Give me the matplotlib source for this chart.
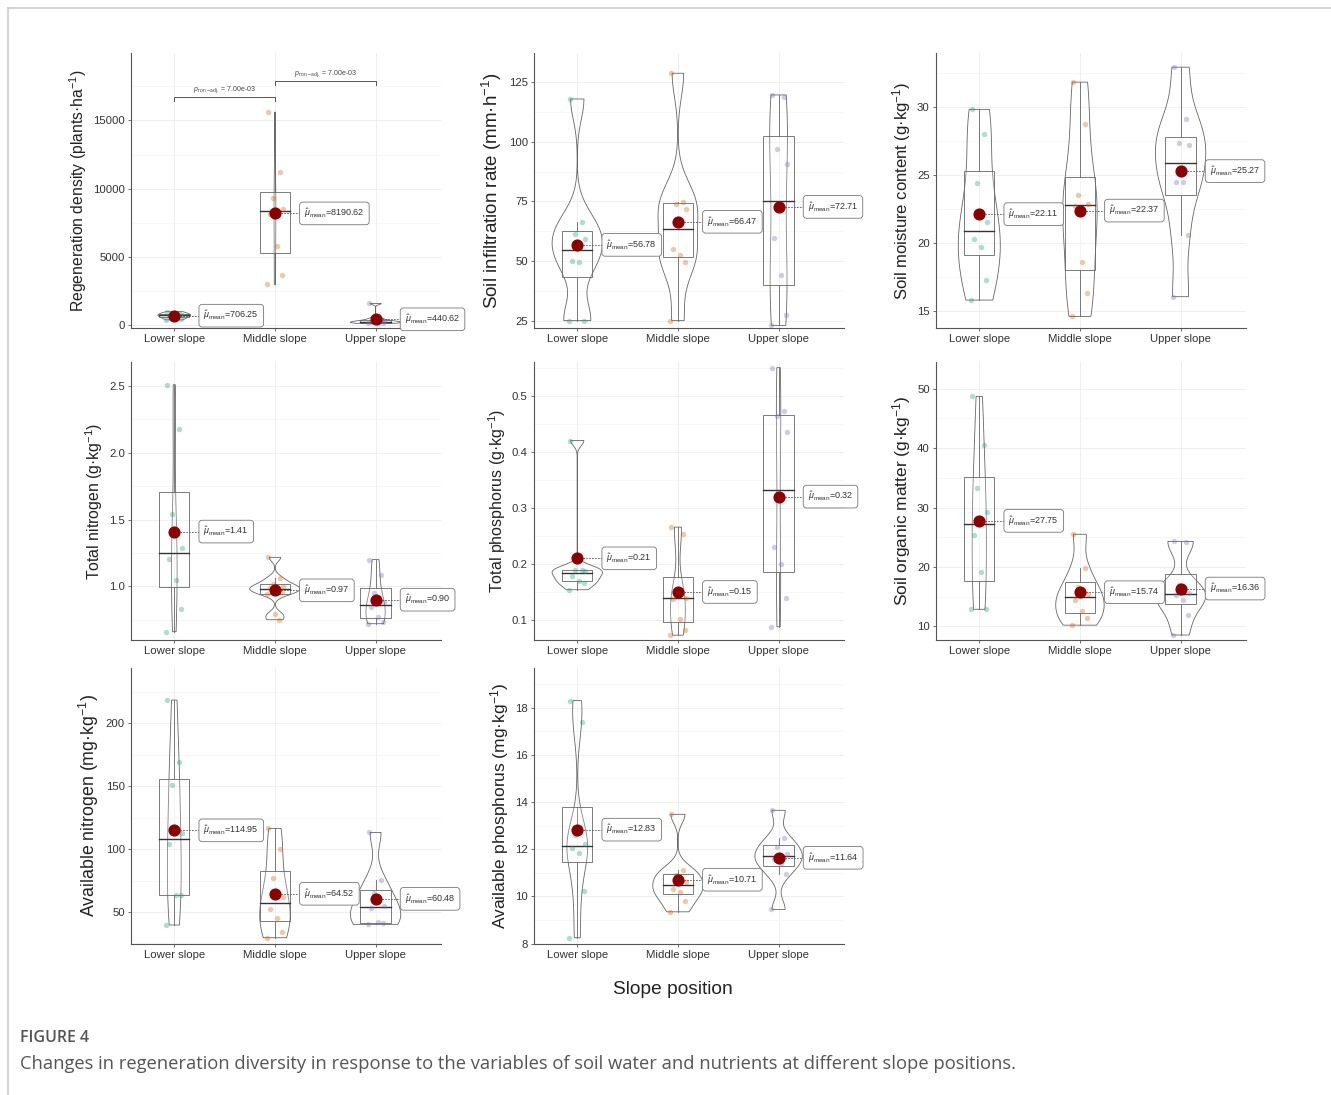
import numpy as np
import matplotlib.pyplot as plt
from matplotlib.lines import Line2D
from matplotlib.patches import Rectangle

plt.rcParams['font.family'] = ['Liberation Sans', 'DejaVu Sans']
plt.rcParams['mathtext.fontset'] = 'custom'
plt.rcParams['mathtext.rm'] = 'Liberation Sans'
plt.rcParams['mathtext.it'] = 'Liberation Sans:italic'
plt.rcParams['mathtext.bf'] = 'Liberation Sans:bold'

groups = ['Lower slope', 'Middle slope', 'Upper slope']
group_colors = ['#1B9E77', '#D95F02', '#7570B3']

# regeneration density (plants/ha)
regen_lower = [1000, 900, 800, 750, 700, 600, 500, 400]
regen_middle = [15600, 11250, 9300, 8550, 8150, 5800, 3700, 3000]
regen_upper = [1600, 500, 350, 300, 250, 200, 175, 150]
regen_means = [706.25, 8190.62, 440.62]

# soil infiltration rate (mm/h)
infil_lower = [118.0, 66.5, 61.4, 59.1, 50.0, 49.5, 25.0, 25.0]
infil_middle = [128.8, 74.6, 74.0, 71.7, 54.9, 52.7, 49.5, 25.0]
infil_upper = [119.7, 119.0, 97.2, 90.9, 59.8, 44.0, 27.4, 23.0]
infil_means = [56.78, 66.47, 72.71]

# soil moisture content (g/kg)
moist_lower = [29.8, 28.0, 24.4, 21.5, 20.3, 19.7, 17.3, 15.8]
moist_middle = [31.8, 28.7, 23.5, 22.85, 22.7, 18.6, 16.3, 14.6]
moist_upper = [32.9, 29.1, 27.35, 27.2, 24.5, 24.45, 20.6, 16.05]
moist_means = [22.11, 22.37, 25.27]

# total nitrogen (g/kg)
tn_lower = [2.51, 2.18, 1.545, 1.29, 1.205, 1.047, 0.828, 0.66]
tn_middle = [1.217, 1.06, 1.02, 1.0, 0.985, 0.975, 0.96, 0.94, 0.79, 0.75]
tn_upper = [1.2, 1.085, 0.95, 0.88, 0.843, 0.773, 0.735, 0.72]
tn_means = [1.41, 0.97, 0.90]

# total phosphorus (g/kg)
tp_lower = [0.42, 0.19, 0.19, 0.188, 0.178, 0.17, 0.1665, 0.154]
tp_middle = [0.2656, 0.254, 0.15, 0.14, 0.137, 0.102, 0.082, 0.073]
tp_upper = [0.55, 0.4726, 0.464, 0.435, 0.23, 0.2, 0.14, 0.088]
tp_means = [0.21, 0.15, 0.32]

# soil organic matter (g/kg)
som_lower = [48.7, 40.45, 33.26, 29.2, 25.3, 19.16, 12.98, 12.87]
som_middle = [25.5, 19.8, 16.7, 15.36, 14.4, 12.5, 11.46, 10.2]
som_upper = [24.3, 24.2, 17.0, 15.6, 15.2, 14.44, 11.9, 8.54]
som_means = [27.75, 15.74, 16.36]

# available nitrogen (mg/kg)
an_lower = [218.5, 169.5, 151.0, 112.5, 103.8, 63.5, 63.5, 39.7]
an_middle = [116.5, 100.0, 76.8, 61.7, 52.1, 45.5, 34.4, 29.6]
an_upper = [113.3, 75.4, 64.8, 55.0, 52.9, 41.8, 41.0, 40.2]
an_means = [114.95, 64.52, 60.48]

# available phosphorus (mg/kg)
ap_lower = [18.3, 17.38, 12.6, 12.23, 12.07, 11.86, 10.23, 8.25]
ap_middle = [13.48, 11.12, 10.9, 10.63, 10.3, 10.2, 9.82, 9.35]
ap_upper = [13.65, 12.46, 12.1, 11.8, 11.6, 11.38, 10.94, 9.45]
ap_means = [12.83, 10.71, 11.64]

panels = [
    ('Regeneration density (plants·ha$^{-1}$)', [regen_lower, regen_middle, regen_upper], regen_means,
     (-195, 19930), [0, 5000, 10000, 15000], 2500, 11.3),
    ('Soil infiltration rate (mm·h$^{-1}$)', [infil_lower, infil_middle, infil_upper], infil_means,
     (21.9, 137.3), [25, 50, 75, 100, 125], 12.5, 13.5),
    ('Soil moisture content (g·kg$^{-1}$)', [moist_lower, moist_middle, moist_upper], moist_means,
     (13.75, 33.94), [15, 20, 25, 30], 2.5, 12),
    ('Total nitrogen (g·kg$^{-1}$)', [tn_lower, tn_middle, tn_upper], tn_means,
     (0.598, 2.68), [1.0, 1.5, 2.0, 2.5], 0.25, 11.4),
    ('Total phosphorus (g·kg$^{-1}$)', [tp_lower, tp_middle, tp_upper], tp_means,
     (0.0644, 0.56), [0.1, 0.2, 0.3, 0.4, 0.5], 0.05, 11.5),
    ('Soil organic matter (g·kg$^{-1}$)', [som_lower, som_middle, som_upper], som_means,
     (7.7, 54.5), [10, 20, 30, 40, 50], 5, 12.5),
    ('Available nitrogen (mg·kg$^{-1}$)', [an_lower, an_middle, an_upper], an_means,
     (24.6, 244), [50, 100, 150, 200], 25, 12.8),
    ('Available phosphorus (mg·kg$^{-1}$)', [ap_lower, ap_middle, ap_upper], ap_means,
     (7.986, 19.68), [8, 10, 12, 14, 16, 18], 1, 12.5),
]

JITTER = np.array([-0.07, 0.05, -0.02, 0.08, -0.05, 0.02, 0.07, -0.08, 0.0, 0.04])


def nrd0(x):
    sd = x.std(ddof=1)
    q1, q3 = np.percentile(x, [25, 75])
    lo = min(sd, (q3 - q1) / 1.34)
    if lo <= 0:
        lo = sd
    return 0.9 * lo * len(x) ** -0.2


def kde(x, grid):
    bw = nrd0(x)
    z = (grid[:, None] - x[None, :]) / bw
    return np.exp(-0.5 * z ** 2).sum(1) / (len(x) * bw * np.sqrt(2 * np.pi))


W, H = 1331, 1095
fig = plt.figure(figsize=(W / 100, H / 100), dpi=100)

col_left = [131, 534, 936]
row_tb = [(53, 328), (362, 640), (668, 944)]
ax_w = 310


def draw_panel(ax, ylabel, data, means, ylim, yticks, minor_step, lab_size):
    ax.set_xlim(0.57, 3.65)
    ax.set_ylim(*ylim)
    ax.set_xticks([1, 2, 3])
    ax.set_xticklabels(groups)
    ax.set_yticks(yticks)
    minors = np.arange(yticks[0] - minor_step, ylim[1], 2 * minor_step)
    ax.set_yticks(minors[(minors > ylim[0]) & (minors < ylim[1])], minor=True)
    ax.grid(which='major', color='#EBEBEB', lw=0.6, zorder=0)
    ax.grid(which='minor', axis='y', color='#F4F4F4', lw=0.5, zorder=0)
    ax.set_axisbelow(True)
    for s in ['top', 'right']:
        ax.spines[s].set_visible(False)
    for s in ['left', 'bottom']:
        ax.spines[s].set_color('#555555')
        ax.spines[s].set_linewidth(0.8)
    ax.tick_params(which='major', labelsize=8.2, colors='#333333', length=2.5, width=0.5, pad=2)
    ax.tick_params(which='minor', length=0)
    ax.set_ylabel(ylabel, fontsize=lab_size, color='#222222', labelpad=3)

    arrs = [np.array(d, dtype=float) for d in data]
    grids = [np.linspace(a.min(), a.max(), 300) for a in arrs]
    dens = [kde(a, g) for a, g in zip(arrs, grids)]
    gmax = max(d.max() for d in dens)

    for i, (a, g, d) in enumerate(zip(arrs, grids, dens)):
        pos = i + 1
        hw = d / gmax * 0.25
        xs = np.concatenate([pos - hw, (pos + hw)[::-1]])
        ys = np.concatenate([g, g[::-1]])
        ax.fill(xs, ys, facecolor=(1, 1, 1, 0.2), edgecolor='#666666', lw=0.6, zorder=2)

        q1, med, q3 = np.percentile(a, [25, 50, 75])
        iqr = q3 - q1
        lo = a[a >= q1 - 1.5 * iqr].min()
        hi = a[a <= q3 + 1.5 * iqr].max()
        ax.plot([pos, pos], [q3, hi], color='#666666', lw=0.6, zorder=3)
        ax.plot([pos, pos], [lo, q1], color='#666666', lw=0.6, zorder=3)
        ax.add_patch(Rectangle((pos - 0.15, q1), 0.3, q3 - q1, facecolor=(1, 1, 1, 0.2),
                               edgecolor='#666666', lw=0.6, zorder=3))
        ax.plot([pos - 0.15, pos + 0.15], [med, med], color='#333333', lw=1.0, zorder=3)

        ax.scatter(pos + JITTER[:len(a)], a, s=15, color=group_colors[i], alpha=0.35,
                   lw=0, zorder=4)

        m = means[i]
        ax.plot([pos, pos + 0.25], [m, m], ls=(0, (2, 1.5)), color='#555555', lw=0.6, zorder=4)
        ax.scatter([pos], [m], s=60, color='#8B0000', zorder=5)
        ax.text(pos + 0.29, m, r'$\hat{\mu}_{\mathrm{mean}}$' + '={:.2f}'.format(m), fontsize=6.5,
                ha='left', va='center', color='#333333', zorder=6, clip_on=False,
                bbox=dict(boxstyle='round,pad=0.5,rounding_size=0.35', fc='white', ec='#777777', lw=0.6))
    return arrs


for k, (ylabel, data, means, ylim, yticks, mstep, lab_size) in enumerate(panels):
    r, c = divmod(k, 3)
    top, bottom = row_tb[r]
    left = col_left[c]
    ax = fig.add_axes([left / W, 1 - bottom / H, ax_w / W, (bottom - top) / H])
    arrs = draw_panel(ax, ylabel, data, means, ylim, yticks, mstep, lab_size)

    if k == 0:
        # pairwise comparison brackets
        top_val = max(a.max() for a in arrs)
        for (x1, x2), f in [((1, 2), 1.07), ((2, 3), 1.145)]:
            yb = top_val * f
            ax.plot([x1, x1, x2, x2], [yb - 250, yb, yb, yb - 250], color='#555555', lw=0.7, zorder=3)
            ax.text((x1 + x2) / 2, yb + 200, r'$p_{\mathrm{non-adj.}}$ = 7.00e-03', fontsize=5,
                    ha='center', va='bottom', color='#444444')

fig.text(673 / W, 1 - 990 / H, 'Slope position', ha='center', va='center', fontsize=13.8, color='#222222')
fig.text(20 / W, 1 - 1038 / H, 'FIGURE 4', ha='left', va='center', fontsize=11.5, color='#555555',
         family='Open Sans', fontweight='semibold')
fig.text(20 / W, 1 - 1064 / H,
         'Changes in regeneration diversity in response to the variables of soil water and nutrients at different slope positions.',
         ha='left', va='center', fontsize=13.2, color='#555555', family='Open Sans')

# page frame
fig.add_artist(Line2D([8 / W, 1], [1 - 8 / H, 1 - 8 / H], color='#CCCCCC', lw=1.2))
fig.add_artist(Line2D([8 / W, 8 / W], [0, 1 - 8 / H], color='#CCCCCC', lw=1.2))

fig.savefig('out.png', dpi=100)
